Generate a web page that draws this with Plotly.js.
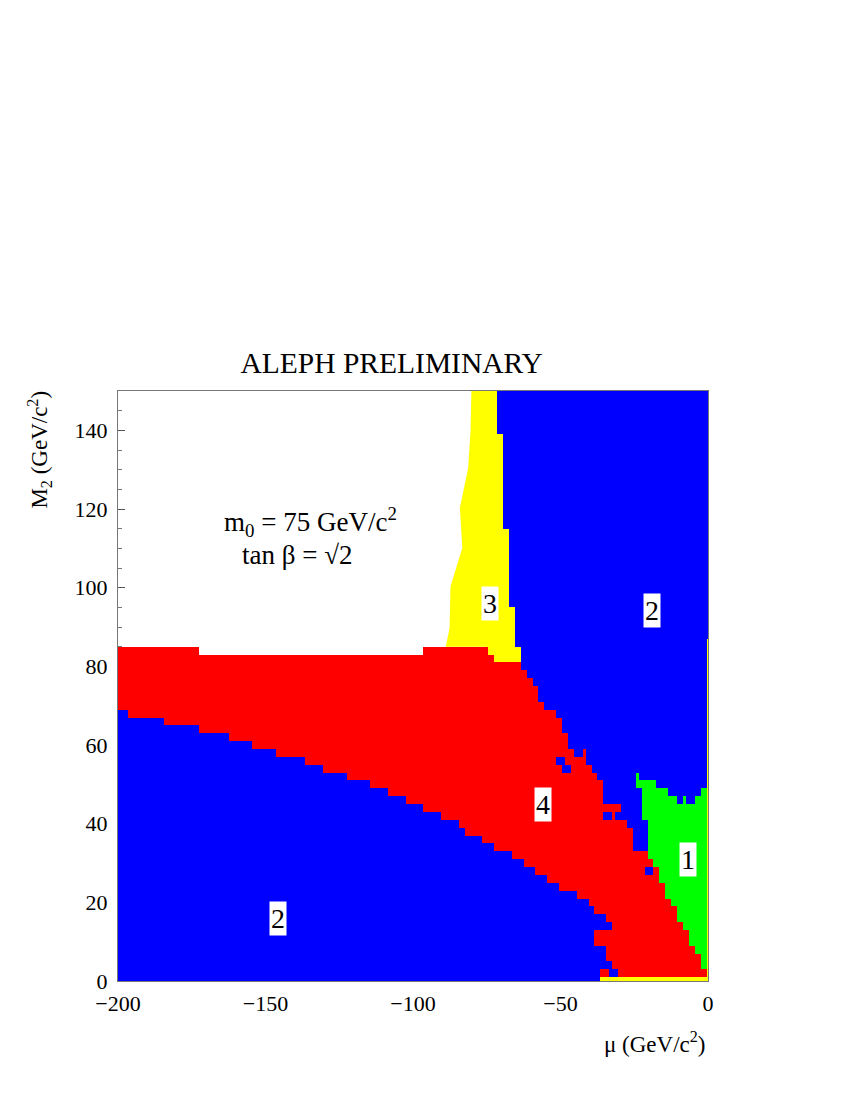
<!DOCTYPE html>
<html><head><meta charset="utf-8">
<script src="https://cdn.plot.ly/plotly-3.0.1.min.js"></script>
<style>body{margin:0;background:#fff}#chart{width:850px;height:1100px}</style>
</head><body><div id="chart"></div>
<script>
// ---- Data (mu and M2 in GeV/c^2) ----
// Category codes: 1 = region 1 (green), 2 = region 2 (blue), 3 = region 3 (yellow), 4 = region 4 (red)
// Top of the lower region 2 (blue) : step function of mu
const muBlueLowEdge = [-200,-196.5,-184.5,-172.5,-162.5,-154.5,-146.5,-136.5,-130.5,-122.5,-114.5,-108.5,-102.5,-96.5,-90.5,-84.5,-82.5,-76.5,-72.5,-66.5,-62.5,-58.5,-54.5,-50.5,-44.5,-40.5,-38.5,-34.5];
const m2BlueLowTop  = [69,67,65,63,61,59,57,55,53,51,49,47,45,43,41,39,37,35,33,31,29,27,25,23,21,19,17,1];
// Top of region 4 (red) : step function of mu
const muRedTopEdge = [-200,-172.5,-96.5,-74.5,-72.5,-63.5,-61.5,-59.5,-57.5,-55.5,-51.5,-49.5,-47.5,-45.5,-42.5,-41.5,-39.5,-37.5,-35.5,-29.5,-27.5,-25.5,-20.5,-18.5,-16.5,-14.5,-12.5,-10.5,-8.5,-6.5,-4.5,-2.5,-0.5];
const m2RedTop     = [85,83,85,83,81,79,77,75,71,69,67,63,59,57,59,55,53,51,45,41,39,33,31,29,25,21,19,15,13,9,7,3,1];
// Region 1 (green) : bottom (max with red top) and top, step function of mu
const muGreenEdge   = [-24.5,-23.5,-22.5,-20.5,-17.5,-13.5,-10.5,-8.5,-7.5,-4.5,-2.5,-0.5];
const m2GreenBottom = [49,49,41,0,0,0,0,0,0,0,0,null];
const m2GreenTop    = [53,51,51,51,49,47,45,47,45,47,49,null];
// Left edge of the upper region 2 (blue) against region 3 (yellow), by M2 band
const m2BlueLeftBand = [81,85,95,115,139];
const muBlueLeft     = [-63.5,-65.5,-67.5,-69.5,-71.5];
// Smooth left edge of region 3 (yellow)
const yellowEdgeMu = [-88.9,-87.6,-87.3,-83.3,-84.1,-81.3,-80.5,-80.2];
const yellowEdgeM2 = [85,89.7,100.3,110.1,120.3,130.4,139.8,150];
const yellowCellStart = -75.5;
// Isolated patches: [category, mu from, mu to, M2 from, M2 to]
const patches = [
  [2,-51.5,-48.5,55,57],
  [2,-49.5,-46.5,53,55],
  [2,-35.5,-32.5,41,43],
  [2,-31.5,-28.5,41,43],
  [2,-21.5,-18.5,27,29],
  [4,-38.5,-34.5,9,13],
  [4,-36.5,-33.5,1,3],
  [2,-33.5,-30.5,1,3],
  [2,-34.5,-32.5,3,5],
  [2,-35.5,-32.5,13,15]
];
// Thin region 3 strips along the mu = 0 edge and the M2 = 0 edge
const rightStripTop = 87;
const bottomStripFrom = -36.5;
// Labels
const regionLabels = [
  {text:'3', mu:-73.9, m2:95.9},
  {text:'2', mu:-18.9, m2:94.3},
  {text:'4', mu:-55.8, m2:45.0},
  {text:'1', mu:-6.9,  m2:30.9},
  {text:'2', mu:-145.9, m2:15.9}
];
const xTicks = [-200,-150,-100,-50,0];
const yTicks = [0,20,40,60,80,100,120,140];

// ---- Build the grid ----
function stepVal(edges, vals, v){
  let out = null;
  for (let i = 0; i < edges.length; i++){ if (v >= edges[i]) out = vals[i]; else break; }
  return out;
}
const xs = []; for (let m = -200; m <= 0; m += 1) xs.push(m);
const ys = []; for (let m = 0; m <= 150; m += 2) ys.push(m);
const z = ys.map(y => xs.map(x => {
  const b1 = stepVal(muBlueLowEdge, m2BlueLowTop, x);
  const b2 = stepVal(muRedTopEdge, m2RedTop, x);
  if (y < b1) return 2;
  if (y < b2) return 4;
  const gTop = stepVal(muGreenEdge, m2GreenTop, x);
  const gBot = stepVal(muGreenEdge, m2GreenBottom, x);
  if (gTop !== null && y >= gBot && y < gTop) return 1;
  const bl = stepVal(m2BlueLeftBand, muBlueLeft, y);
  if (bl === null || x >= bl) return 2;
  if (x >= yellowCellStart) return 3;
  return null;
}));
patches.forEach(p => {
  ys.forEach((y, j) => xs.forEach((x, i) => {
    if (x >= p[1] && x < p[2] && y >= p[3] && y < p[4]) z[j][i] = p[0];
  }));
});
ys.forEach((y, j) => xs.forEach((x, i) => {
  if (x >= -0.5 && y < rightStripTop) z[j][i] = 3;
  if (y === 0 && x >= bottomStripFrom) z[j][i] = 3;
}));

const cs = [[0,'#ffffff'],[0.125,'#ffffff'],[0.125,'#00ff00'],[0.375,'#00ff00'],[0.375,'#0000ff'],[0.625,'#0000ff'],[0.625,'#ffff00'],[0.875,'#ffff00'],[0.875,'#ff0000'],[1,'#ff0000']];

const heat = {type:'heatmap', x:xs, y:ys, z:z, zmin:0, zmax:4, colorscale:cs, showscale:false, zsmooth:false, hoverinfo:'skip', xgap:0, ygap:0};
const yellowPoly = {type:'scatter', mode:'lines', x: yellowEdgeMu.concat([yellowCellStart, yellowCellStart]), y: yellowEdgeM2.concat([150, 85]), fill:'toself', fillcolor:'#ffff00', line:{width:0, color:'#ffff00'}, hoverinfo:'skip', showlegend:false};

const serif = 'Liberation Serif, Times New Roman, serif';
const annotations = regionLabels.map(l => ({x:l.mu, y:l.m2, xref:'x', yref:'y', xanchor:'center', yanchor:'middle', text:l.text, showarrow:false, bgcolor:'#ffffff', borderpad:1, font:{family:serif, size:28, color:'#000'}}));
annotations.push({x:-164.7, y:116.6, xref:'x', yref:'y', xanchor:'left', yanchor:'middle', text:'m<sub>0</sub> = 75 GeV/c<sup>2</sup>', showarrow:false, font:{family:serif, size:27, color:'#000'}});
annotations.push({x:-158.5, y:108.4, xref:'x', yref:'y', xanchor:'left', yanchor:'middle', text:'tan β = √2', showarrow:false, font:{family:serif, size:27, color:'#000'}});
annotations.push({x:(39 - 117.5) / 591, y:(981.5 - 450) / 590.5, xref:'paper', yref:'paper', xanchor:'center', yanchor:'middle', text:'M<sub>2</sub> (GeV/c<sup>2</sup>)', textangle:-90, showarrow:false, font:{family:serif, size:23, color:'#000'}});
annotations.push({x:(655 - 117.5) / 591, y:(981.5 - 1043) / 590.5, xref:'paper', yref:'paper', xanchor:'center', yanchor:'middle', text:'μ (GeV/c<sup>2</sup>)', showarrow:false, font:{family:serif, size:23, color:'#000'}});

const layout = {
  width:850, height:1100,
  margin:{l:117.5, r:141.5, t:391, b:118.5},
  paper_bgcolor:'#ffffff', plot_bgcolor:'#ffffff',
  showlegend:false,
  title:{text:'ALEPH PRELIMINARY', x:391.7/850, xref:'container', xanchor:'center', y:1-362.5/1100, yref:'container', yanchor:'middle', font:{family:serif, size:29.5, color:'#000'}},
  xaxis:{range:[-200,0], tickvals:xTicks, ticktext:xTicks.map(v => v < 0 ? '\u2212' + (-v) : String(v)), ticks:'inside', ticklen:14, tickcolor:'#555', showline:true, mirror:true, linecolor:'#777', linewidth:1, showgrid:false, zeroline:false, layer:'below traces', ticklabelstandoff:3, tickfont:{family:serif, size:22, color:'#000'}},
  yaxis:{range:[0,150], tickvals:yTicks, ticks:'inside', ticklen:7, tickcolor:'#555', minor:{dtick:5, ticks:'inside', ticklen:3.5, tickcolor:'#777'}, showline:true, mirror:true, linecolor:'#777', linewidth:1, showgrid:false, zeroline:false, layer:'below traces', ticklabelstandoff:5, tickfont:{family:serif, size:22, color:'#000'}},
  annotations:annotations
};
Plotly.newPlot('chart', [heat, yellowPoly], layout, {displayModeBar:false, staticPlot:true});
</script>
</body></html>
